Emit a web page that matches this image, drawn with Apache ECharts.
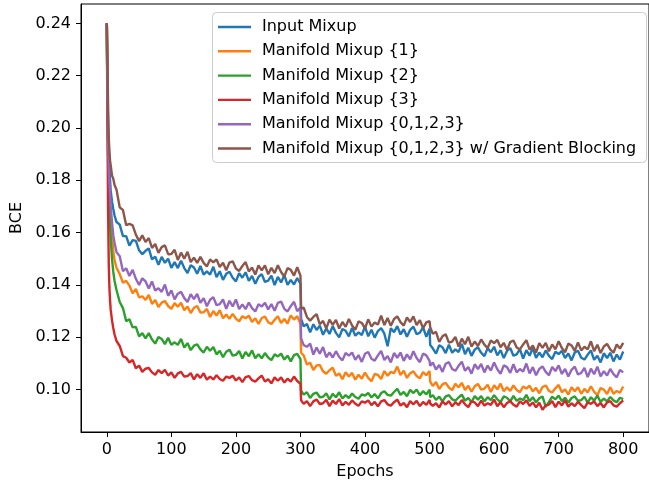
<!DOCTYPE html>
<html><head><meta charset="utf-8">
<script src="https://cdn.jsdelivr.net/npm/echarts@6/dist/echarts.min.js"></script>
<style>html,body{margin:0;padding:0;background:#fff}#c{width:649px;height:487px}</style>
</head><body><div id="c"></div>
<script>
const epochs = [0,1,2,3,4,5,6,8,10,12,15,
20,25,30,35,40,45,50,55,60,65,70,75,80,85,90,95,100,105,110,115,120,125,130,135,140,145,150,155,160,165,170,175,180,185,190,195,200,205,210,215,220,225,230,235,240,245,250,255,260,265,270,275,280,285,290,295,300,
301,
305,310,315,320,325,330,335,340,345,350,355,360,365,370,375,380,385,390,395,400,405,410,415,420,425,430,435,440,445,450,455,460,465,470,475,480,485,490,495,500,
501,
505,510,515,520,525,530,535,540,545,550,555,560,565,570,575,580,585,590,595,600,605,610,615,620,625,630,635,640,645,650,655,660,665,670,675,680,685,690,695,700,705,710,715,720,725,730,735,740,745,750,755,760,765,770,775,780,785,790,795,800];

const inputMixup = [0.2400,0.2150,0.2000,0.1900,0.1850,0.1800,0.1760,0.1720,0.1690,0.1665,0.1640,
0.1630,0.1586,0.1586,0.1550,0.1571,0.1568,0.1532,0.1517,0.1530,0.1539,
0.1497,0.1508,0.1476,0.1507,0.1484,0.1500,0.1465,0.1487,0.1464,0.1492,
0.1464,0.1445,0.1475,0.1466,0.1442,0.1472,0.1439,0.1451,0.1439,0.1469,
0.1429,0.1452,0.1419,0.1442,0.1450,0.1427,0.1413,0.1444,0.1427,0.1448,
0.1415,0.1434,0.1404,0.1430,0.1441,0.1411,0.1416,0.1435,0.1399,0.1430,
0.1409,0.1437,0.1400,0.1419,0.1401,0.1426,0.1404,
0.1270,
0.1241,0.1250,0.1218,0.1249,0.1227,0.1244,0.1209,0.1233,0.1212,0.1242,
0.1216,0.1199,0.1231,0.1224,0.1203,0.1235,0.1205,0.1218,0.1208,0.1240,
0.1203,0.1228,0.1198,0.1223,0.1234,0.1213,0.1165,0.1234,0.1219,0.1242,
0.1210,0.1230,0.1201,0.1228,0.1240,0.1211,0.1217,0.1237,0.1201,0.1232,
0.1170,
0.1157,0.1137,0.1169,0.1161,0.1139,0.1171,0.1140,0.1153,0.1143,0.1174,
0.1135,0.1159,0.1128,0.1152,0.1161,0.1140,0.1127,0.1158,0.1142,0.1163,
0.1130,0.1150,0.1120,0.1147,0.1158,0.1129,0.1134,0.1154,0.1118,0.1150,
0.1129,0.1158,0.1121,0.1141,0.1123,0.1149,0.1128,0.1116,0.1144,0.1135,
0.1147,0.1120,0.1137,0.1111,0.1141,0.1148,0.1121,0.1114,0.1133,0.1149,
0.1113,0.1129,0.1103,0.1138,0.1120,0.1140,0.1107,0.1133,0.1114,0.1145];

const manifold1 = [0.2400,0.2080,0.1900,0.1790,0.1720,0.1680,0.1650,0.1580,0.1530,0.1495,0.1465,
0.1441,0.1408,0.1415,0.1397,0.1368,0.1384,0.1352,0.1356,0.1342,0.1361,
0.1327,0.1342,0.1315,0.1332,0.1338,0.1319,0.1308,0.1330,0.1316,0.1331,
0.1303,0.1317,0.1292,0.1312,0.1319,0.1294,0.1295,0.1308,0.1277,0.1300,
0.1282,0.1303,0.1272,0.1286,0.1270,0.1289,0.1271,0.1260,0.1280,0.1272,
0.1282,0.1258,0.1272,0.1250,0.1273,0.1278,0.1257,0.1250,0.1266,0.1280,
0.1254,0.1269,0.1252,0.1283,0.1267,0.1280,0.1251,
0.1140,
0.1130,0.1095,0.1102,0.1074,0.1092,0.1093,0.1069,0.1060,0.1073,0.1083,
0.1052,0.1061,0.1039,0.1066,0.1049,0.1063,0.1037,0.1056,0.1041,0.1064,
0.1044,0.1031,0.1059,0.1055,0.1040,0.1070,0.1052,0.1067,0.1062,0.1087,
0.1055,0.1071,0.1044,0.1062,0.1069,0.1051,0.1042,0.1066,0.1054,0.1070,
0.1030,
0.1013,0.1028,0.1001,0.1019,0.1025,0.1007,0.0997,0.1021,0.1008,0.1025,
0.0998,0.1014,0.0991,0.1012,0.1021,0.0999,0.1003,0.1018,0.0990,0.1016,
0.1000,0.1022,0.0993,0.1008,0.0994,0.1015,0.0998,0.0989,0.1011,0.1003,
0.1014,0.0992,0.1006,0.0985,0.1009,0.1015,0.0994,0.0988,0.1004,0.1017,
0.0989,0.1000,0.0980,0.1008,0.0993,0.1008,0.0983,0.1002,0.0988,0.1012,
0.0991,0.0978,0.1005,0.0999,0.0982,0.1008,0.0983,0.0994,0.0987,0.1011];

const manifold2 = [0.2400,0.2100,0.1900,0.1780,0.1690,0.1630,0.1580,0.1500,0.1450,0.1415,0.1380,
0.1334,0.1311,0.1261,0.1268,0.1237,0.1239,0.1203,0.1215,0.1195,0.1215,
0.1191,0.1175,0.1200,0.1193,0.1173,0.1197,0.1171,0.1180,0.1170,0.1193,
0.1160,0.1177,0.1150,0.1167,0.1172,0.1153,0.1141,0.1163,0.1148,0.1162,
0.1134,0.1148,0.1123,0.1144,0.1152,0.1129,0.1132,0.1147,0.1118,0.1143,
0.1127,0.1149,0.1119,0.1134,0.1119,0.1139,0.1122,0.1112,0.1134,0.1126,
0.1137,0.1114,0.1129,0.1107,0.1131,0.1136,0.1116,
0.0995,
0.0980,0.0989,0.0967,0.0983,0.0988,0.0970,0.0972,0.0985,0.0962,0.0983,
0.0970,0.0989,0.0965,0.0978,0.0967,0.0984,0.0971,0.0964,0.0981,0.0976,
0.0986,0.0969,0.0982,0.0966,0.0986,0.0993,0.0979,0.0976,0.0990,0.1002,
0.0979,0.0990,0.0974,0.0998,0.0986,0.0999,0.0978,0.0993,0.0981,0.0999,
0.0970,
0.0978,0.0960,0.0972,0.0954,0.0973,0.0978,0.0962,0.0957,0.0969,0.0980,
0.0957,0.0967,0.0951,0.0974,0.0961,0.0974,0.0954,0.0970,0.0959,0.0978,
0.0962,0.0951,0.0973,0.0968,0.0954,0.0975,0.0956,0.0965,0.0959,0.0979,
0.0955,0.0970,0.0950,0.0966,0.0973,0.0933,0.0952,0.0972,0.0962,0.0976,
0.0955,0.0968,0.0949,0.0967,0.0973,0.0956,0.0959,0.0972,0.0949,0.0970,
0.0957,0.0976,0.0952,0.0965,0.0954,0.0971,0.0958,0.0951,0.0968,0.0963];

const manifold3 = [0.2400,0.2000,0.1680,0.1480,0.1390,0.1340,0.1305,0.1265,0.1235,0.1210,0.1185,
0.1166,0.1127,0.1121,0.1103,0.1113,0.1081,0.1091,0.1067,0.1079,0.1082,
0.1065,0.1056,0.1074,0.1062,0.1075,0.1053,0.1065,0.1044,0.1061,0.1067,
0.1049,0.1051,0.1062,0.1038,0.1058,0.1044,0.1062,0.1037,0.1049,0.1038,
0.1054,0.1040,0.1033,0.1049,0.1044,0.1052,0.1034,0.1046,0.1028,0.1047,
0.1051,0.1035,0.1030,0.1042,0.1053,0.1030,0.1039,0.1023,0.1046,0.1033,
0.1046,0.1026,0.1041,0.1030,0.1049,0.1032,0.1021,
0.0958,
0.0945,0.0955,0.0936,0.0954,0.0961,0.0944,0.0947,0.0960,0.0936,0.0957,
0.0944,0.0963,0.0939,0.0952,0.0941,0.0958,0.0945,0.0937,0.0954,0.0949,
0.0958,0.0940,0.0952,0.0935,0.0954,0.0959,0.0943,0.0938,0.0951,0.0961,
0.0938,0.0948,0.0932,0.0955,0.0943,0.0956,0.0936,0.0952,0.0941,0.0960,
0.0946,
0.0937,0.0947,0.0931,0.0954,0.0942,0.0955,0.0935,0.0951,0.0940,0.0959,
0.0943,0.0932,0.0954,0.0950,0.0936,0.0957,0.0938,0.0947,0.0941,0.0961,
0.0936,0.0951,0.0932,0.0948,0.0955,0.0941,0.0934,0.0954,0.0944,0.0958,
0.0937,0.0950,0.0931,0.0949,0.0922,0.0939,0.0942,0.0955,0.0932,0.0953,
0.0939,0.0958,0.0934,0.0947,0.0936,0.0953,0.0940,0.0928,0.0950,0.0945,
0.0954,0.0936,0.0948,0.0931,0.0950,0.0955,0.0939,0.0934,0.0947,0.0958];

const manifold0123 = [0.2400,0.2120,0.1950,0.1850,0.1790,0.1750,0.1700,0.1640,0.1590,0.1560,0.1525,
0.1509,0.1452,0.1463,0.1434,0.1457,0.1423,0.1399,0.1425,0.1413,0.1386,
0.1413,0.1378,0.1387,0.1373,0.1401,0.1358,0.1379,0.1344,0.1366,0.1373,
0.1349,0.1334,0.1364,0.1345,0.1365,0.1331,0.1349,0.1318,0.1343,0.1353,
0.1322,0.1326,0.1344,0.1308,0.1339,0.1317,0.1344,0.1307,0.1325,0.1307,
0.1332,0.1311,0.1298,0.1326,0.1317,0.1331,0.1306,0.1326,0.1301,0.1331,
0.1336,0.1308,0.1298,0.1318,0.1335,0.1299,0.1313,
0.1195,
0.1169,0.1163,0.1175,0.1133,0.1160,0.1136,0.1162,0.1123,0.1141,0.1122,
0.1146,0.1124,0.1111,0.1139,0.1129,0.1141,0.1113,0.1131,0.1105,0.1136,
0.1143,0.1117,0.1110,0.1130,0.1147,0.1112,0.1128,0.1103,0.1139,0.1121,
0.1141,0.1109,0.1134,0.1115,0.1146,0.1120,0.1104,0.1137,0.1130,0.1109,
0.1090,
0.1103,0.1076,0.1093,0.1067,0.1098,0.1104,0.1078,0.1071,0.1090,0.1106,
0.1071,0.1086,0.1060,0.1096,0.1078,0.1097,0.1065,0.1091,0.1072,0.1103,
0.1077,0.1060,0.1092,0.1085,0.1063,0.1096,0.1065,0.1078,0.1068,0.1099,
0.1061,0.1085,0.1054,0.1078,0.1088,0.1067,0.1054,0.1086,0.1070,0.1092,
0.1059,0.1078,0.1049,0.1075,0.1087,0.1057,0.1063,0.1082,0.1047,0.1079,
0.1058,0.1087,0.1050,0.1070,0.1053,0.1078,0.1058,0.1046,0.1074,0.1065];

const manifold0123GB = [0.2400,0.2250,0.2080,0.1960,0.1915,0.1875,0.1858,0.1818,0.1806,0.1782,0.1764,
0.1696,0.1686,0.1628,0.1633,0.1627,0.1592,0.1567,0.1589,0.1564,0.1579,
0.1541,0.1556,0.1522,0.1544,0.1551,0.1517,0.1518,0.1534,0.1495,0.1523,
0.1500,0.1526,0.1487,0.1504,0.1484,0.1507,0.1484,0.1470,0.1497,0.1486,
0.1497,0.1468,0.1484,0.1456,0.1485,0.1490,0.1462,0.1453,0.1472,0.1487,
0.1451,0.1466,0.1439,0.1474,0.1455,0.1474,0.1440,0.1465,0.1445,0.1475,
0.1449,0.1432,0.1464,0.1457,0.1435,0.1467,0.1435,
0.1310,
0.1313,0.1277,0.1263,0.1277,0.1288,0.1249,0.1262,0.1233,0.1267,0.1247,
0.1266,0.1233,0.1258,0.1239,0.1269,0.1244,0.1228,0.1260,0.1254,0.1233,
0.1268,0.1240,0.1256,0.1248,0.1282,0.1246,0.1273,0.1243,0.1269,0.1279,
0.1257,0.1244,0.1275,0.1258,0.1279,0.1246,0.1265,0.1234,0.1256,0.1261,
0.1238,
0.1213,0.1220,0.1182,0.1203,0.1211,0.1179,0.1183,0.1201,0.1164,0.1194,
0.1173,0.1201,0.1164,0.1183,0.1166,0.1191,0.1171,0.1158,0.1187,0.1177,
0.1189,0.1161,0.1178,0.1151,0.1181,0.1187,0.1160,0.1153,0.1172,0.1188,
0.1152,0.1168,0.1141,0.1177,0.1159,0.1178,0.1146,0.1172,0.1153,0.1184,
0.1158,0.1142,0.1175,0.1168,0.1147,0.1180,0.1149,0.1163,0.1153,0.1184,
0.1146,0.1171,0.1139,0.1164,0.1174,0.1153,0.1140,0.1172,0.1156,0.1178];

const seriesNames = ['Input Mixup','Manifold Mixup {1}','Manifold Mixup {2}','Manifold Mixup {3}','Manifold Mixup {0,1,2,3}','Manifold Mixup {0,1,2,3} w/ Gradient Blocking'];
const seriesColors = ['#1f77b4','#ff7f0e','#2ca02c','#d62728','#9467bd','#8c564b'];
const xTicks = [0,100,200,300,400,500,600,700,800];
const yTicks = [0.10,0.12,0.14,0.16,0.18,0.20,0.22,0.24];

const seriesValues = [inputMixup, manifold1, manifold2, manifold3, manifold0123, manifold0123GB];
const FONT = 'DejaVu Sans';
const chart = echarts.init(document.getElementById('c'), null, {renderer:'canvas'});
chart.setOption({
  animation:false,
  backgroundColor:'#ffffff',
  grid:{left:81, top:4, right:-5, bottom:55, show:true, borderColor:'#000', borderWidth:1, backgroundColor:'transparent'},
  xAxis:{type:'value', min:-40, max:840, name:'Epochs', nameLocation:'middle', nameGap:32,
    nameTextStyle:{fontFamily:FONT, fontSize:16, color:'#000'},
    axisLine:{show:true, onZero:false, lineStyle:{color:'#000', width:1}},
    axisTick:{show:true, length:5, lineStyle:{color:'#000', width:1}, customValues:xTicks},
    axisLabel:{fontFamily:FONT, fontSize:16, color:'#000', margin:10, customValues:xTicks},
    splitLine:{show:false}},
  yAxis:{type:'value', min:0.0837, max:0.2474, name:'BCE', nameLocation:'middle', nameGap:50,
    nameTextStyle:{fontFamily:FONT, fontSize:16, color:'#000'},
    axisLine:{show:true, onZero:false, lineStyle:{color:'#000', width:1}},
    axisTick:{show:true, length:5, lineStyle:{color:'#000', width:1}, customValues:yTicks},
    axisLabel:{fontFamily:FONT, fontSize:16, color:'#000', margin:10, customValues:yTicks, formatter:v=>Number(v).toFixed(2)},
    splitLine:{show:false}},
  graphic:{elements:[{type:'rect', z:3, shape:{x:212.5, y:12.5, width:434, height:150, r:4},
    style:{fill:'rgba(255,255,255,0.8)', stroke:'#cccccc', lineWidth:1}}]},
  legend:{orient:'vertical', left:218, top:19, padding:0, itemWidth:33, itemHeight:16, itemGap:8.3, z:5,
    icon:'path://M0,0H33V2.4H0Z', symbolKeepAspect:true,
    itemStyle:{borderWidth:0},
    data:seriesNames,
    textStyle:{fontFamily:FONT, fontSize:16, color:'#000', padding:[0,0,0,6]}},
  series: seriesNames.map((name,i)=>({
    name, type:'line', symbol:'none', showSymbol:false,
    data: epochs.map((e,j)=>[e, seriesValues[i][j]]),
    lineStyle:{color:seriesColors[i], width:2.4},
    itemStyle:{color:seriesColors[i]},
    z:2
  }))
});
</script></body></html>
